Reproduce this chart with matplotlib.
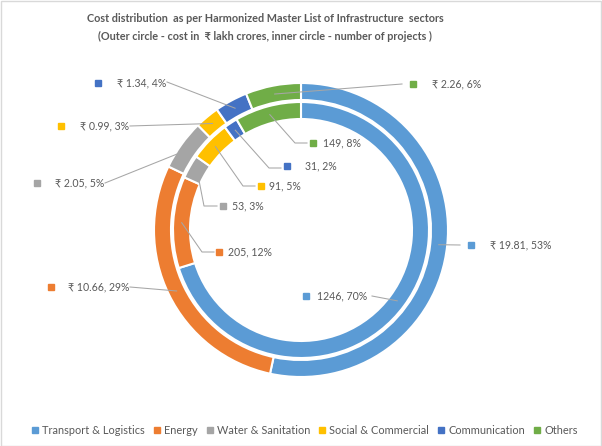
import numpy as np
import matplotlib
matplotlib.use("Agg")
import matplotlib.pyplot as plt
from matplotlib.lines import Line2D
from matplotlib.patches import Rectangle

# Datos
sectores = ["Transport & Logistics", "Energy", "Water & Sanitation",
            "Social & Commercial", "Communication", "Others"]
costo = [19.81, 10.66, 2.05, 0.99, 1.34, 2.26]          # lakh crores
costo_pct = [53, 29, 5, 3, 4, 6]
proyectos = [1246, 205, 53, 91, 31, 149]
proyectos_pct = [70, 12, 3, 5, 2, 8]

colores = ["#5B9BD5", "#ED7D31", "#A5A5A5", "#FFC000", "#4472C4", "#70AD47"]

W, H = 602, 446
CX, CY = 301, 230            # centro en pixeles (desde arriba)
R_EXT, R_INT, ANCHO = 147, 128, 17

# posiciones de etiquetas (pixeles desde arriba): marcador x, y, texto x, puntos de la guia
etq_ext = [(471, 245, 490, [(460, 245)]),
           (51, 287, 68, [(130, 287)]),
           (37, 183, 55, [(105, 183)]),
           (61, 126, 80, [(130, 126)]),
           (98, 83, 117, [(167, 82)]),
           (413, 84, 432, [(402, 84)])]
etq_int = [(306, 296, 317, [(372, 296)]),
           (219, 252, 228, [(202, 252), (214, 252)]),
           (223, 206, 232, [(204, 206), (217, 206)]),
           (261, 186, 269, [(243, 186), (255, 186)]),
           (287, 166, 305, [(269, 168), (281, 168)]),
           (313, 143, 323, [(295, 143), (307, 143)])]

FUENTE = ["Lato", "DejaVu Sans"]
GRIS = "#595959"
TAM = 7.6


def y_px(y):
    return H - y


def anclas(valores, r):
    v = np.array(valores, dtype=float)
    frac = v / v.sum()
    medio = np.cumsum(frac) - frac / 2
    ang = np.deg2rad(90 - medio * 360)
    return [(CX + r * np.cos(a), y_px(CY) + r * np.sin(a)) for a in ang]


def main():
    fig = plt.figure(figsize=(W / 100, H / 100), dpi=100)
    ax = fig.add_axes([0, 0, 1, 1])

    ax.pie(costo, colors=colores, radius=R_EXT, center=(CX, y_px(CY)),
           startangle=90, counterclock=False,
           wedgeprops=dict(width=ANCHO, edgecolor="white", linewidth=1.5))
    ax.pie(proyectos, colors=colores, radius=R_INT, center=(CX, y_px(CY)),
           startangle=90, counterclock=False,
           wedgeprops=dict(width=ANCHO, edgecolor="white", linewidth=1.5))
    ax.set_xlim(0, W)
    ax.set_ylim(0, H)
    ax.set_aspect("equal")
    ax.axis("off")

    textos_ext = [f"\u20b9 {c:.2f}, {p}%" for c, p in zip(costo, costo_pct)]
    textos_int = [f"{n}, {p}%" for n, p in zip(proyectos, proyectos_pct)]

    grupos = [(etq_ext, textos_ext, anclas(costo, R_EXT - ANCHO / 2)),
              (etq_int, textos_int, anclas(proyectos, R_INT - ANCHO / 2))]
    for etiquetas, textos, puntos in grupos:
        for (mx, my, tx, guia), txt, (ax0, ay0), col in zip(etiquetas, textos, puntos, colores):
            xs = [ax0] + [p[0] for p in guia]
            ys = [ay0] + [y_px(p[1]) for p in guia]
            ax.plot(xs, ys, color="#A6A6A6", lw=0.75, zorder=3)
            ax.plot(mx, y_px(my), marker="s", ms=4.0, color=col, ls="none", zorder=4)
            ax.text(tx, y_px(my), txt, fontsize=TAM, color=GRIS, family=FUENTE,
                    va="center", ha="left", zorder=5)

    fig.text(265 / W, 1 - 18 / H,
             "Cost distribution  as per Harmonized Master List of Infrastructure  sectors",
             ha="center", va="center", fontsize=7.8, fontweight="bold", color=GRIS, family=FUENTE)
    fig.text(265 / W, 1 - 36 / H,
             "(Outer circle - cost in  \u20b9 lakh crores, inner circle - number of projects )",
             ha="center", va="center", fontsize=7.8, fontweight="bold", color=GRIS, family=FUENTE)

    manejadores = [Line2D([], [], marker="s", ls="none", ms=3.8, color=c) for c in colores]
    fig.legend(manejadores, sectores, loc="center", bbox_to_anchor=(305 / W, 1 - 430 / H),
               ncol=6, frameon=False, handlelength=0.5, handletextpad=0.4,
               columnspacing=0.85, labelcolor=GRIS, prop={"family": FUENTE, "size": 7.9})

    fig.patches.append(Rectangle((0.001, 0.001), 0.997, 0.997, transform=fig.transFigure,
                                 fill=False, edgecolor="#D9D9D9", lw=1))

    fig.savefig("out.png", dpi=100, facecolor="white")


if __name__ == '__main__':
    main()
